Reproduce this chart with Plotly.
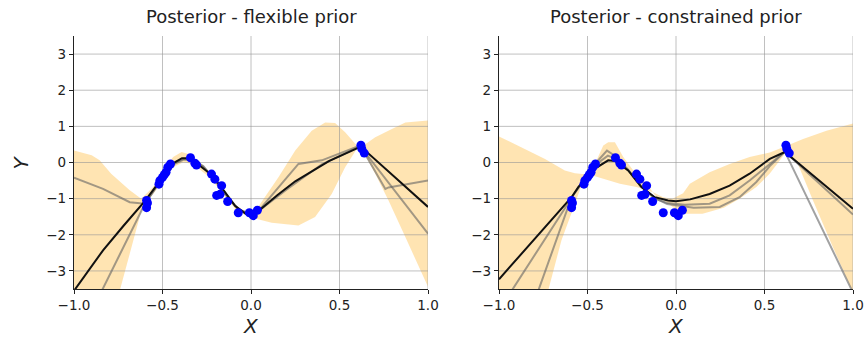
import plotly.graph_objects as go

# observed data
x_obs = [-0.59, -0.59, -0.585, -0.52, -0.515, -0.50, -0.49, -0.48, -0.47, -0.455,
         -0.342, -0.317, -0.308, -0.223, -0.204, -0.166, -0.194, -0.175, -0.132,
         -0.072, -0.009, 0.013, 0.036, 0.621, 0.626, 0.640]
y_obs = [-1.05, -1.25, -1.12, -0.60, -0.50, -0.41, -0.34, -0.27, -0.13, -0.04,
         0.13, -0.02, -0.07, -0.32, -0.46, -0.64, -0.91, -0.88, -1.08,
         -1.39, -1.39, -1.47, -1.32, 0.48, 0.38, 0.26]

# ---------- flexible prior ----------
flex_band_a_x = [-1.0, -0.9, -0.855, -0.79, -0.685, -0.62, -0.553, -0.496, -0.44, -0.392, -0.345,
                 -0.27, -0.195, -0.12, -0.044, 0.02, 0.04, 0.155, 0.25, 0.343, 0.419, 0.475,
                 0.532, 0.589, 0.617, 0.702, 0.796, 0.872, 1.0]
flex_band_a_y = [0.33, 0.2, 0.06, -0.31, -0.77, -1.0, -0.68, -0.22, 0.15, 0.29, 0.22,
                 -0.08, -0.50, -1.05, -1.33, -1.35, -1.23, -0.41, 0.33, 0.88, 1.11, 1.09,
                 0.84, 0.52, 0.41, 0.70, 0.93, 1.11, 1.16]
flex_band_b_x = [-1.0, -0.741, -0.666, -0.609, -0.553, -0.496, -0.44, -0.383, -0.327, -0.232,
                 -0.157, -0.082, -0.006, 0.117, 0.268, 0.362, 0.456, 0.532, 0.598, 0.636,
                 0.702, 0.777, 0.872, 1.0]
flex_band_b_y = [-7.0, -3.54, -2.16, -1.14, -0.87, -0.50, -0.13, 0.01, -0.04, -0.42,
                 -0.87, -1.33, -1.51, -1.67, -1.74, -1.51, -0.87, -0.13, 0.38, 0.28,
                 -0.31, -1.05, -2.06, -3.44]
flex_mean_x = [-1.0, -0.836, -0.72, -0.6, -0.52, -0.45, -0.39, -0.35, -0.3, -0.22, -0.15,
               -0.09, -0.03, 0.0, 0.04, 0.15, 0.25, 0.35, 0.44, 0.62, 1.0]
flex_mean_y = [-3.55, -2.43, -1.75, -1.07, -0.55, -0.05, 0.12, 0.12, -0.05, -0.35, -0.8,
               -1.2, -1.42, -1.45, -1.35, -0.9, -0.52, -0.22, 0.04, 0.44, -1.23]
flex_s1_x = [-1.0, -0.836, -0.685, -0.6, -0.52, -0.45, -0.38, -0.33, -0.27, -0.2, -0.13,
             -0.07, 0.0, 0.04, 0.268, 0.4, 0.617, 0.759, 0.777, 1.0]
flex_s1_y = [-0.42, -0.73, -1.1, -1.14, -0.55, -0.05, 0.1, 0.08, -0.1, -0.5, -0.95,
             -1.3, -1.42, -1.35, -0.04, 0.06, 0.47, -0.73, -0.69, -0.50]
flex_s2_x = [-1.0, -0.6, -0.52, -0.45, -0.38, -0.33, -0.27, -0.2, -0.13, -0.07, 0.0,
             0.04, 0.2, 0.4, 0.617, 1.0]
flex_s2_y = [-5.1, -1.15, -0.58, -0.08, 0.08, 0.07, -0.12, -0.52, -0.97, -1.32, -1.44,
             -1.35, -0.75, -0.05, 0.45, -1.97]

# ---------- constrained prior ----------
cons_band_a_x = [-1.0, -0.74, -0.628, -0.571, -0.486, -0.411, -0.317, -0.223, -0.129, -0.073,
                 -0.02, 0.04, 0.078, 0.19, 0.303, 0.416, 0.53, 0.605, 0.718, 0.85, 1.0]
cons_band_a_y = [0.72, 0.10, -0.22, -0.30, -0.34, -0.45, -0.59, -0.68, -0.82, -0.96,
                 -1.0, -0.85, -0.59, -0.27, -0.04, 0.15, 0.28, 0.42, 0.65, 0.88, 1.08]
cons_band_b_x = [-1.0, -0.722, -0.647, -0.571, -0.524, -0.458, -0.411, -0.383, -0.345, -0.298,
                 -0.241, -0.166, -0.11, -0.053, 0.0, 0.05, 0.15, 0.27, 0.359, 0.454, 0.529,
                 0.586, 0.615, 0.68, 0.774, 0.886, 1.0]
cons_band_b_y = [-9.0, -3.54, -2.15, -1.14, -0.5, -0.04, 0.47, 0.56, 0.56, 0.15,
                 -0.22, -0.59, -0.96, -1.10, -1.3, -1.42, -1.42, -1.25, -1.0, -0.68, -0.31,
                 0.06, 0.24, 0.06, -1.05, -2.34, -3.6]
cons_mean_x = [-1.0, -0.59, -0.552, -0.458, -0.383, -0.345, -0.27, -0.195, -0.12, -0.045,
               0.0, 0.08, 0.19, 0.303, 0.416, 0.53, 0.615, 1.0]
cons_mean_y = [-3.23, -0.96, -0.68, -0.17, 0.06, 0.04, -0.22, -0.68, -0.96, -1.05,
               -1.07, -1.02, -0.87, -0.64, -0.31, 0.10, 0.29, -1.28]
cons_s1_x = [-1.0, -0.59, -0.52, -0.45, -0.39, -0.35, -0.27, -0.2, -0.12, -0.05, 0.05,
             0.19, 0.303, 0.416, 0.53, 0.615, 1.0]
cons_s1_y = [-4.09, -0.96, -0.45, 0.0, 0.33, 0.2, -0.2, -0.65, -1.0, -1.12, -1.17,
             -1.14, -0.91, -0.50, -0.04, 0.30, -1.44]
cons_s2_x = [-1.0, -0.59, -0.52, -0.45, -0.385, -0.34, -0.27, -0.2, -0.12, -0.05, 0.1,
             0.247, 0.359, 0.454, 0.53, 0.615, 1.0]
cons_s2_y = [-6.6, -0.96, -0.5, -0.05, 0.19, 0.1, -0.22, -0.65, -0.98, -1.15, -1.25,
             -1.23, -0.96, -0.54, -0.1, 0.30, -3.6]

titles = ["Posterior - flexible prior", "Posterior - constrained prior"]
x_ticks = [-1.0, -0.5, 0.0, 0.5, 1.0]
x_tick_text = ["\u22121.0", "\u22120.5", "0.0", "0.5", "1.0"]
y_ticks = [-3, -2, -1, 0, 1, 2, 3]
y_tick_text = ["\u22123", "\u22122", "\u22121", "0", "1", "2", "3"]
x_range = [-1, 1]
y_range = [-3.5, 3.5]

panels = [
    (flex_band_a_x, flex_band_a_y, flex_band_b_x, flex_band_b_y, flex_mean_x, flex_mean_y,
     [(flex_s1_x, flex_s1_y), (flex_s2_x, flex_s2_y)]),
    (cons_band_a_x, cons_band_a_y, cons_band_b_x, cons_band_b_y, cons_mean_x, cons_mean_y,
     [(cons_s1_x, cons_s1_y), (cons_s2_x, cons_s2_y)]),
]

# grid drawn as a trace so it sits above the uncertainty band (matplotlib order)
grid_x, grid_y = [], []
for yt in y_ticks:
    grid_x += [x_range[0], x_range[1], None]
    grid_y += [yt, yt, None]
for xt in x_ticks[1:]:
    grid_x += [xt, xt, None]
    grid_y += [y_range[0], y_range[1], None]

fig = go.Figure()
FONT = "DejaVu Sans"
for i, (ax_, ay_, bx_, by_, mx, my, samples) in enumerate(panels):
    xa = "x" if i == 0 else "x2"
    ya = "y" if i == 0 else "y2"
    fig.add_trace(go.Scatter(x=ax_ + bx_[::-1], y=ay_ + by_[::-1], fill="toself",
                             fillcolor="rgba(255,165,0,0.3)", line=dict(width=0),
                             mode="lines", hoverinfo="skip", showlegend=False,
                             xaxis=xa, yaxis=ya))
    fig.add_trace(go.Scatter(x=grid_x, y=grid_y, mode="lines",
                             line=dict(color="rgba(150,150,150,0.6)", width=1),
                             hoverinfo="skip", showlegend=False, xaxis=xa, yaxis=ya))
    for sx, sy in samples:
        fig.add_trace(go.Scatter(x=sx, y=sy, mode="lines",
                                 line=dict(color="rgba(100,100,100,0.6)", width=2),
                                 showlegend=False, xaxis=xa, yaxis=ya))
    fig.add_trace(go.Scatter(x=mx, y=my, mode="lines", line=dict(color="#111111", width=2),
                             showlegend=False, xaxis=xa, yaxis=ya))
    fig.add_trace(go.Scatter(x=x_obs, y=y_obs, mode="markers",
                             marker=dict(color="blue", size=9, line=dict(width=0)),
                             showlegend=False, xaxis=xa, yaxis=ya))

axis_common = dict(showgrid=False,
                   showline=True, linecolor="#222222", linewidth=1.2,
                   ticks="outside", ticklen=4, tickcolor="#222222",
                   tickfont=dict(family=FONT, size=13.5, color="#222222"),
                   zeroline=False, mirror=False, automargin=False)

L, R, T, B = 74, 11, 36, 50
W, H = 864, 339
pw = W - L - R
ph = H - T - B
d1 = (428 - 74) / pw
d2 = (499 - 74) / pw

fig.update_layout(
    width=W, height=H,
    margin=dict(l=L, r=R, t=T, b=B, autoexpand=False),
    showlegend=False,
    plot_bgcolor="white", paper_bgcolor="white",
    xaxis=dict(domain=[0, d1], range=x_range, tickvals=x_ticks, ticktext=x_tick_text,
               anchor="y", **axis_common),
    xaxis2=dict(domain=[d2, 1], range=x_range, tickvals=x_ticks, ticktext=x_tick_text,
                anchor="y2", **axis_common),
    yaxis=dict(domain=[0, 1], range=y_range, tickvals=y_ticks, ticktext=y_tick_text,
               anchor="x", **axis_common),
    yaxis2=dict(domain=[0, 1], range=y_range, tickvals=y_ticks, ticktext=y_tick_text,
                anchor="x2", **axis_common),
)

centers = [d1 / 2, (d2 + 1) / 2]
for c, t in zip(centers, titles):
    fig.add_annotation(x=c, y=1 + 19 / ph, xref="paper", yref="paper", text=t,
                       showarrow=False, xanchor="center", yanchor="middle",
                       font=dict(family=FONT, size=18, color="#222222"))
    fig.add_annotation(x=c, y=-37 / ph, xref="paper", yref="paper", text="<i>X</i>",
                       showarrow=False, xanchor="center", yanchor="middle",
                       font=dict(family=FONT, size=20, color="#222222"))
fig.add_annotation(x=-54 / pw, y=0.5, xref="paper", yref="paper", text="<i>Y</i>",
                   textangle=-90, showarrow=False, xanchor="center", yanchor="middle",
                   font=dict(family=FONT, size=20, color="#222222"))

fig.write_html("out.html")
